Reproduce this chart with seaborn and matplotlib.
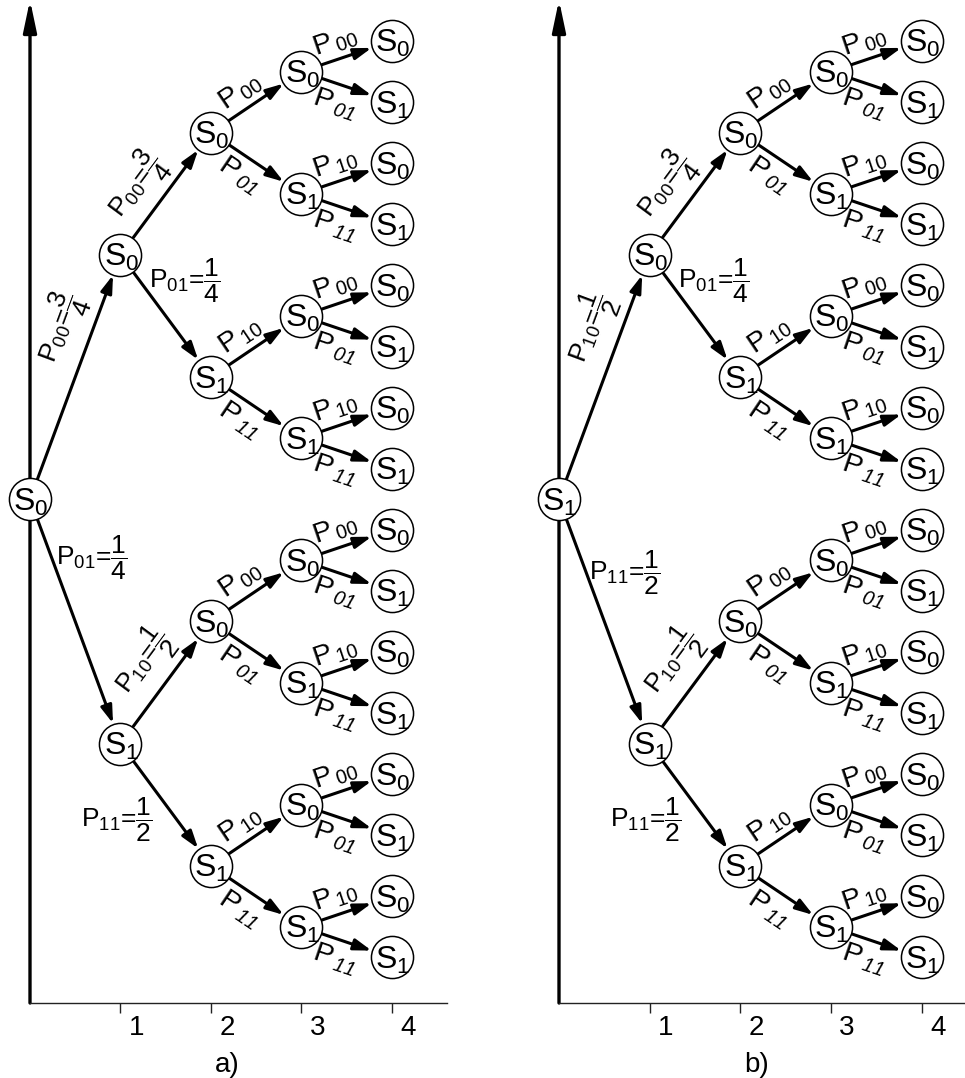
import math
import numpy as np
import pandas as pd
import matplotlib
matplotlib.use("Agg")
import matplotlib.pyplot as plt
import seaborn as sns
from matplotlib.patches import ArrowStyle
from matplotlib.transforms import ScaledTranslation

# ---------------- data ----------------
panel_names = ["a)", "b)"]
root_states = [0, 1]                 # initial state of each panel
depth = 4                            # number of steps
time_ticks = [1, 2, 3, 4]
time_tick_labels = ["1", "2", "3", "4"]
child_states = [0, 1]                # upper child -> S0, lower child -> S1
trans_from = [0, 0, 1, 1]
trans_to = [0, 1, 0, 1]
trans_num = [3, 1, 1, 1]
trans_den = [4, 4, 2, 2]
valued_levels = 2                    # edges leaving levels 0 and 1 show values

# ---------------- style ----------------
sns.set_theme(style="white")
plt.rcParams["font.family"] = ["Liberation Sans", "DejaVu Sans"]
plt.rcParams["mathtext.fontset"] = "custom"
plt.rcParams["mathtext.rm"] = "Liberation Sans"
plt.rcParams["mathtext.it"] = "Liberation Sans:italic"
plt.rcParams["mathtext.bf"] = "Liberation Sans:bold"
plt.rcParams["mathtext.sf"] = "Liberation Sans:italic"
plt.rcParams["text.color"] = "black"
plt.rcParams["xtick.color"] = "black"
plt.rcParams["xtick.labelcolor"] = "black"

W, H = 965, 1078
fig = plt.figure(figsize=(W / 100, H / 100), dpi=100)
fig.patch.set_facecolor("white")

# axes frames in pixels: (left, width, xmax)
frames = [(30, 417, 4.608), (559, 406, 4.478)]
AX_BOTTOM, AX_HEIGHT = 75, 997
YLIM = (-0.745, 15.573)

PX2PT = 72.0 / 100.0
LABEL_FS = 20.5
NODE_FS = 23


def build_tree(root_state):
    rows = []
    n_leaves = 2 ** depth
    for L in range(depth + 1):
        span = 2 ** (depth - L)
        for k in range(2 ** L):
            lo, hi = k * span, (k + 1) * span - 1
            y = (n_leaves - 1) - (lo + hi) / 2.0
            state = root_state if L == 0 else child_states[k % 2]
            rows.append(dict(level=L, k=k, y=y, state=state))
    return pd.DataFrame(rows)


def prob_index(s, t):
    for i in range(len(trans_from)):
        if trans_from[i] == s and trans_to[i] == t:
            return i
    return None


# label layout for valued edges: (level, k, child) -> placement
value_layout = {
    (0, 0, 0): ("rot", 0.655, 30),
    (1, 0, 0): ("rot", 0.43, 28),
    (1, 0, 1): ("flat", 64, 26),
    (1, 1, 0): ("rot", 0.52, 30),
    (1, 1, 1): ("flat", -4, 76),
}
root_flat = [(62, 59), (66, 74)]

edge_style = ArrowStyle("-|>", head_length=1.05, head_width=0.34)
axis_style = ArrowStyle("-|>", head_length=1.9, head_width=0.4)

for pi, (left, width, xmax) in enumerate(frames):
    ax = fig.add_axes([left / W, AX_BOTTOM / H, width / W, AX_HEIGHT / H])
    ax.set_xlim(0, xmax)
    ax.set_ylim(*YLIM)
    ax.set_facecolor("none")
    for side in ["top", "right", "left"]:
        ax.spines[side].set_visible(False)
    ax.spines["bottom"].set_color("#222222")
    ax.spines["bottom"].set_linewidth(1.0)
    ax.set_yticks([])
    ax.set_xticks(time_ticks)
    ax.set_xticklabels(time_tick_labels)
    ax.tick_params(axis="x", bottom=True, direction="out", length=7.2,
                   width=1.0, color="#222222", pad=1.5, labelsize=20,
                   labelcolor="black")
    for lab in ax.get_xticklabels():
        lab.set_transform(lab.get_transform() +
                          ScaledTranslation(0.16, 0, fig.dpi_scale_trans))
    ax.grid(False)

    # vertical axis arrow
    ax.annotate("", xy=(0, 1.006), xytext=(0, 0), xycoords="axes fraction",
                textcoords="axes fraction",
                arrowprops=dict(arrowstyle=axis_style, color="black", lw=2.4,
                                shrinkA=0, shrinkB=0, mutation_scale=10),
                annotation_clip=False, zorder=1)

    df = build_tree(root_states[pi])
    lookup = {(r.level, r.k): r for r in df.itertuples()}

    # nodes
    sns.scatterplot(data=df, x="level", y="y", ax=ax, s=920, marker="o",
                    color="white", edgecolor="black", linewidth=1.1,
                    zorder=5, legend=False, clip_on=False)
    ax.set_xlabel("")
    ax.set_ylabel("")
    for r in df.itertuples():
        ax.annotate(rf"$\mathrm{{S}}_{{{r.state}}}$", xy=(r.level, r.y),
                    xytext=(0.5, -8.2), textcoords="offset points",
                    ha="center", va="baseline", fontsize=NODE_FS, zorder=6)

    # edges
    for L in range(depth):
        for k in range(2 ** L):
            p = lookup[(L, k)]
            for ci in (0, 1):
                c = lookup[(L + 1, 2 * k + ci)]
                ax.annotate("", xy=(c.level, c.y), xytext=(p.level, p.y),
                            arrowprops=dict(arrowstyle=edge_style,
                                            color="black", lw=2.2,
                                            shrinkA=15.5, shrinkB=15.5,
                                            mutation_scale=10),
                            zorder=2)
                P = ax.transData.transform((p.level, p.y))
                C = ax.transData.transform((c.level, c.y))
                d = C - P
                u = d / np.hypot(*d)
                ang = math.degrees(math.atan2(u[1], u[0]))
                if ci == 0:
                    nrm = np.array([-u[1], u[0]])
                else:
                    nrm = np.array([u[1], -u[0]])
                s, t = p.state, c.state
                if L < valued_levels:
                    i = prob_index(s, t)
                    txt = (rf"$\mathrm{{P}}_{{{s}{t}}}\text{{=}}"
                           rf"\dfrac{{{trans_num[i]}}}{{{trans_den[i]}}}$")
                    if L == 0 and ci == 1:
                        mode = ("flat",) + root_flat[pi]
                    else:
                        mode = value_layout[(L, k, ci)]
                    if mode[0] == "rot":
                        tt, perp = mode[1], mode[2]
                        xy = (p.level + tt * (c.level - p.level),
                              p.y + tt * (c.y - p.y))
                        off = nrm * perp * PX2PT
                        ax.annotate(txt, xy=xy, xytext=(off[0], off[1]),
                                    textcoords="offset points", ha="center",
                                    va="center", rotation=ang,
                                    rotation_mode="anchor", fontsize=19,
                                    zorder=4)
                    else:
                        dx, dy = mode[1], mode[2]
                        ax.annotate(txt, xy=(p.level, p.y),
                                    xytext=(dx * PX2PT, -dy * PX2PT),
                                    textcoords="offset points", ha="center",
                                    va="center", fontsize=19, zorder=4)
                else:
                    if ci == 0:
                        txt = rf"$\mathrm{{P}}_{{\,{s}{t}}}$"
                    else:
                        txt = rf"$\mathrm{{P}}_{{\,\mathsf{{{s}{t}}}}}$"
                    tt = 0.43
                    perp = 18 if ci == 0 else 20
                    xy = (p.level + tt * (c.level - p.level),
                          p.y + tt * (c.y - p.y))
                    off = nrm * perp * PX2PT
                    ax.annotate(txt, xy=xy, xytext=(off[0], off[1]),
                                textcoords="offset points", ha="center",
                                va="center", rotation=ang,
                                rotation_mode="anchor", fontsize=LABEL_FS,
                                zorder=4)

    # panel caption
    cx = ((227, 757)[pi] - left) / width
    ax.text(cx, -0.0622, panel_names[pi], transform=ax.transAxes,
            ha="center", va="center", fontsize=20)

fig.savefig("out.png", dpi=100)
